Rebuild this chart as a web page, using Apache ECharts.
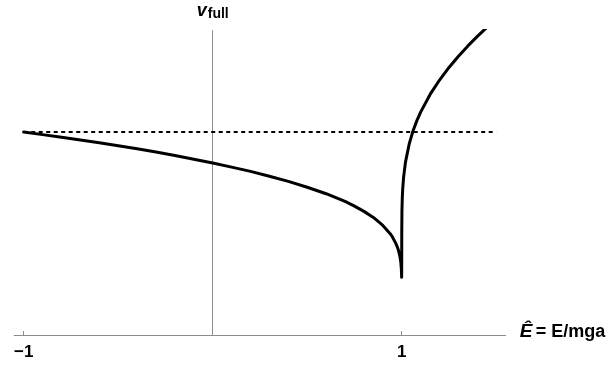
<!DOCTYPE html>
<html>
<head>
<meta charset="utf-8">
<script src="https://cdn.jsdelivr.net/npm/echarts@6/dist/echarts.min.js"></script>
<style>html,body{margin:0;padding:0;background:#fff;}#c{width:613px;height:367px;}</style>
</head>
<body>
<div id="c"></div>
<script>
// x = Ê (E/mga), y = v_full
const curveX = [-1.0, -0.9, -0.8, -0.7, -0.6, -0.5, -0.4, -0.3, -0.2, -0.1, 0.0, 0.1, 0.2, 0.3, 0.4, 0.5, 0.6, 0.7, 0.75, 0.8, 0.85, 0.9, 0.94, 0.95, 0.97, 0.98, 0.99, 0.995, 0.998, 0.9995, 1.0,
  1.0, 1.00001, 1.0001, 1.001, 1.003, 1.005, 1.01, 1.02, 1.04, 1.06, 1.08, 1.1, 1.15, 1.2, 1.25, 1.3, 1.35, 1.4, 1.45];
const curveY = [1.0, 0.987, 0.974, 0.961, 0.947, 0.932, 0.917, 0.901, 0.884, 0.866, 0.847, 0.827, 0.806, 0.782, 0.757, 0.728, 0.696, 0.658, 0.635, 0.609, 0.579, 0.540, 0.498, 0.484, 0.449, 0.425, 0.389, 0.359, 0.325, 0.284, 0.28,
  0.28, 0.42, 0.496, 0.606, 0.678, 0.718, 0.779, 0.853, 0.943, 1.006, 1.056, 1.098, 1.185, 1.256, 1.318, 1.373, 1.424, 1.471, 1.515];
const refX = [-1.0, 1.5];
const refY = [1.0, 1.0];
const xTicks = [-1, 1];
const xTickLabels = ['\u22121', '1'];

const chart = echarts.init(document.getElementById('c'), null, {renderer: 'canvas'});
const FONT = '"Liberation Sans", Arial, sans-serif';
chart.setOption({
  animation: false,
  backgroundColor: '#ffffff',
  grid: {left: 14.25, right: 107.3, top: 30.5, bottom: 32, containLabel: false},
  xAxis: {
    type: 'value', min: -1.05, max: 1.55,
    splitLine: {show: false},
    axisLine: {show: true, onZero: true, lineStyle: {color: '#8c8c8c', width: 1}},
    axisTick: {show: true, inside: true, length: 4, customValues: xTicks, lineStyle: {color: '#8c8c8c'}},
    axisLabel: {
      show: true, customValues: xTicks, margin: 9,
      fontFamily: FONT, fontWeight: 'bold', fontSize: 17, color: '#000',
      formatter: function (v) { const i = xTicks.indexOf(v); return i >= 0 ? xTickLabels[i] : ''; }
    },
    name: '{i|\u00CA} {n|= E/mga}',
    nameLocation: 'end', nameGap: 14,
    nameTextStyle: {
      verticalAlign: 'middle',
      padding: [0, 0, 6, 0],
      rich: {
        i: {fontFamily: FONT, fontWeight: 'bold', fontStyle: 'italic', fontSize: 19, color: '#000'},
        n: {fontFamily: FONT, fontWeight: 'bold', fontSize: 18, color: '#000'}
      }
    }
  },
  yAxis: {
    type: 'value', min: 0, max: 1.5,
    splitLine: {show: false},
    axisLine: {show: true, onZero: true, lineStyle: {color: '#8c8c8c', width: 1}},
    axisTick: {show: false},
    axisLabel: {show: false},
    name: '{v|v}{s|full}',
    nameLocation: 'end', nameGap: 9,
    nameTextStyle: {
      rich: {
        v: {fontFamily: FONT, fontWeight: 'bold', fontStyle: 'italic', fontSize: 18, color: '#000'},
        s: {fontFamily: FONT, fontWeight: 'bold', fontSize: 14, color: '#000', padding: [6, 0, 0, 1]}
      }
    }
  },
  series: [
    {
      type: 'line', data: refX.map((x, i) => [x, refY[i]]),
      symbol: 'none', clip: true,
      lineStyle: {color: '#000', width: 2, type: [4, 3.5]}
    },
    {
      type: 'line', data: curveX.map((x, i) => [x, curveY[i]]),
      symbol: 'none', clip: true, smooth: false,
      lineStyle: {color: '#000', width: 3, join: 'round', cap: 'round'}
    }
  ]
});
</script>
</body>
</html>
